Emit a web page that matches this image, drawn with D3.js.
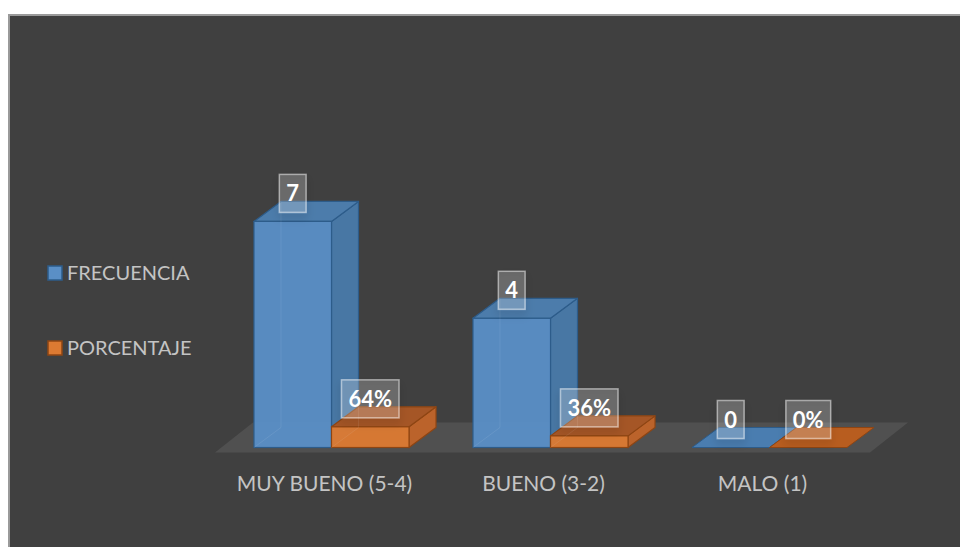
<!DOCTYPE html>
<html><head><meta charset="utf-8">
<script src="https://cdn.jsdelivr.net/npm/d3@7"></script>
<style>html,body{margin:0;padding:0;background:#fff;}svg{display:block;}</style>
</head><body>
<svg id="c" width="960" height="547"></svg>
<script>
const categories = ["MUY BUENO (5-4)", "BUENO (3-2)", "MALO (1)"];
const seriesNames = ["FRECUENCIA", "PORCENTAJE"];
const frecuencia = [7, 4, 0];
const porcentaje = [0.64, 0.36, 0];
const porcentajeLabels = ["64%", "36%", "0%"];
const frecuenciaLabels = ["7", "4", "0"];

const svg = d3.select("#c");
const FONT = "Lato, 'Open Sans', sans-serif";

// frame
svg.append("rect").attr("x", 9).attr("y", 15).attr("width", 980).attr("height", 560)
  .attr("fill", "#404040").attr("stroke", "#9a9a9a").attr("stroke-width", 2);

const defs = svg.append("defs");
const f = defs.append("filter").attr("id", "sh").attr("x", "-50%").attr("y", "-50%").attr("width", "200%").attr("height", "200%");
f.append("feDropShadow").attr("dx", 0).attr("dy", 5).attr("stdDeviation", 4).attr("flood-color", "#000").attr("flood-opacity", 0.35);

const baseY = 447.5;
const y = d3.scaleLinear().domain([0, 8]).range([baseY, baseY - 8 * 32.3]);
const x = d3.scaleBand().domain(categories).range([222, 879]).paddingInner(0.292).paddingOuter(0.146);
const xs = d3.scaleBand().domain(seriesNames).range([0, x.bandwidth()]);
const dx = 27, dy = -20;

// floor
const fl = [[215, 452.5], [870, 452.5], [908, 422.5], [253, 422.5]];
svg.append("path").attr("d", d3.line()(fl) + "Z").attr("fill", "#505050");

const styles = {
  FRECUENCIA: {front: "#5a8fc6", top: "#4c7cab", side: "#4877a4", stroke: "#2d5c8a", flat: "#4a7db0"},
  PORCENTAJE: {front: "#dc7a32", top: "#a55626", side: "#bb632b", stroke: "#8e4513", flat: "#b85d1f"}
};

const data = [];
categories.forEach((c, i) => {
  data.push({cat: c, s: "FRECUENCIA", v: frecuencia[i], label: frecuenciaLabels[i]});
  data.push({cat: c, s: "PORCENTAJE", v: porcentaje[i], label: porcentajeLabels[i]});
});

const line = d3.line();
const g = svg.append("g");
data.forEach(d => {
  const st = styles[d.s];
  const x0 = x(d.cat) + xs(d.s), x1 = x0 + xs.bandwidth();
  const yt = y(d.v), yb = y(0);
  const bg = g.append("g");
  if (d.v > 0) {
    bg.append("path").attr("d", line([[x0 + dx, yt + dy], [x0 + dx, yb + dy], [x1 + dx, yb + dy]]))
      .attr("fill", "none").attr("stroke", st.stroke).attr("stroke-opacity", 0.35).attr("stroke-width", 1);
    bg.append("path").attr("d", line([[x1, yt], [x1 + dx, yt + dy], [x1 + dx, yb + dy], [x1, yb]]) + "Z")
      .attr("fill", st.side).attr("stroke", st.stroke).attr("stroke-width", 1.2).attr("stroke-linejoin", "round");
    bg.append("path").attr("d", line([[x0, yt], [x1, yt], [x1 + dx, yt + dy], [x0 + dx, yt + dy]]) + "Z")
      .attr("fill", st.top).attr("stroke", st.stroke).attr("stroke-width", 1.2).attr("stroke-linejoin", "round");
    bg.append("rect").attr("x", x0).attr("y", yt).attr("width", x1 - x0).attr("height", yb - yt)
      .attr("fill", st.front).attr("fill-opacity", 0.96).attr("stroke", st.stroke).attr("stroke-width", 1.2);
    bg.append("path").attr("d", line([[x0 + dx, yt + dy], [x0 + dx, yb + dy], [x0, yb]]))
      .attr("fill", "none").attr("stroke", "#ffffff").attr("stroke-opacity", 0.08).attr("stroke-width", 1);
  } else {
    bg.append("path").attr("d", line([[x0, yb], [x1, yb], [x1 + dx, yb + dy], [x0 + dx, yb + dy]]) + "Z")
      .attr("fill", st.flat).attr("stroke", st.stroke).attr("stroke-width", 1).attr("stroke-linejoin", "round");
  }
});

// data labels
data.forEach(d => {
  const x0 = x(d.cat) + xs(d.s);
  const cx = x0 + xs.bandwidth() / 2;
  const cy = y(d.v) - 28;
  const lg = svg.append("g");
  const t = lg.append("text").attr("x", cx).attr("y", cy + 8).attr("text-anchor", "middle")
    .attr("font-family", FONT).attr("font-weight", "bold").attr("font-size", 22).attr("fill", "#ffffff").text(d.label);
  const w = t.node().getComputedTextLength() + 14;
  lg.insert("rect", "text").attr("x", cx - w / 2).attr("y", cy - 19).attr("width", w).attr("height", 38)
    .attr("fill", "#ffffff").attr("fill-opacity", 0.2).attr("stroke", "#ffffff").attr("stroke-opacity", 0.5)
    .attr("stroke-width", 1.5).attr("filter", "url(#sh)");
});

// category labels
categories.forEach(c => {
  svg.append("text").attr("x", x(c) + x.bandwidth() / 2 - 7).attr("y", 491).attr("text-anchor", "middle")
    .attr("font-family", FONT).attr("font-size", 21).attr("fill", "#c4c4c4").text(c);
});

// legend
const legY = [273, 348];
seriesNames.forEach((s, i) => {
  const st = styles[s];
  svg.append("rect").attr("x", 48).attr("y", legY[i] - 7).attr("width", 14).attr("height", 14)
    .attr("fill", st.front).attr("stroke", st.stroke).attr("stroke-width", 1.5);
  svg.append("text").attr("x", 67).attr("y", legY[i] + 7).attr("font-family", FONT).attr("font-size", 20)
    .attr("fill", "#c4c4c4").text(s);
});
</script>
</body></html>
